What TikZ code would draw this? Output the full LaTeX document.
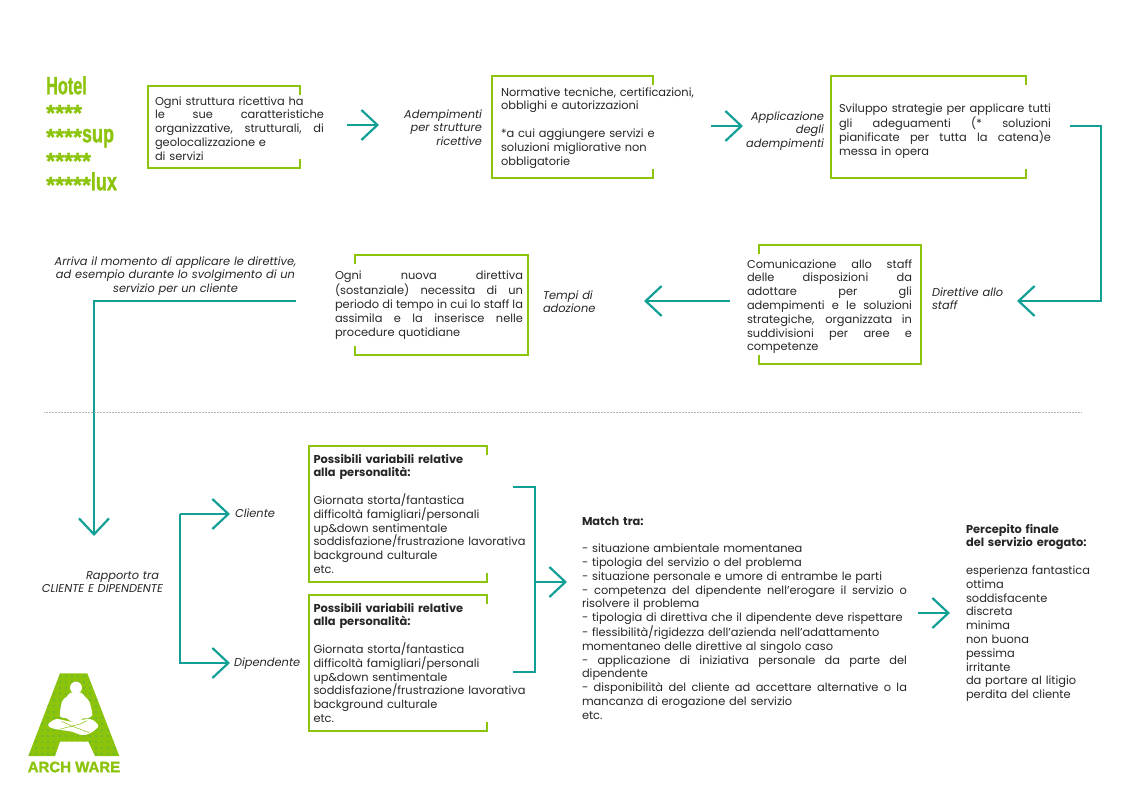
\documentclass[tikz,border=0pt]{standalone}
\usepackage{fontspec}
\usepackage{graphicx}
\setmainfont{Poppins}
\newfontfamily\hotelfont{Liberation Sans}[BoldFont={Liberation Sans Bold},BoldFeatures={FakeBold=1.4}]
\usetikzlibrary{arrows.meta,positioning}
\definecolor{archgreen}{HTML}{8CC30B}
\definecolor{archteal}{HTML}{12A096}
\definecolor{inkgrey}{HTML}{262626}
\newlength{\jlwidth}
\newcommand{\jl}[1]{\leavevmode\hbox to \jlwidth{\spaceskip=.26em plus 1fil\relax #1}}
\newcommand{\hotelword}[2][.65]{\scalebox{#1}[1]{#2}}
\newcommand{\hotelstars}[1]{\raisebox{-2.5pt}{\fontsize{23}{24}\selectfont #1}}

\begin{document}
\begin{tikzpicture}[
  x=1pt, y=-1pt,
  frm/.style 2 args={anchor=north west, inner sep=0pt, outer sep=0pt, minimum width=#1pt, minimum height=#2pt},
  brk/.style={draw=archgreen, line width=2.5pt},
  txt/.style={anchor=north west, inner sep=0pt, outer sep=0pt, yshift=-1.5pt, text=inkgrey, text width=#1pt, align=left,
    font=\fontsize{11.4}{13.8}\selectfont, execute at begin node={\setlength{\jlwidth}{#1pt}\strut}},
  lbl/.style={txt=#1, font=\fontsize{11.4}{13.8}\selectfont\itshape},
  conn/.style={draw=archteal, line width=2.2pt},
  arr/.style={conn, -{Straight Barb[length=16pt,width=30pt,line width=2.2pt]}}
]
\useasboundingbox (0,0) rectangle (1140,806);

% title column
\node[anchor=north west, inner sep=0pt, text=archgreen, align=left,
  font=\fontsize{25}{24}\selectfont\hotelfont\bfseries] (hotel) at (46,76)
  {\hotelword{Hotel}\\ \hotelstars{****}\\
   \hotelstars{****}\hotelword[.72]{sup}\\
   \hotelstars{*****}\\
   \hotelstars{*****}\hotelword[.72]{lux}};

% frames
\node[frm={152}{82}] (frmStruttura) at (148,86) {};
\node[frm={161}{102}] (frmNorme) at (492,76) {};
\node[frm={195}{102}] (frmSviluppo) at (831,76) {};
\node[frm={162}{119}] (frmStaff) at (759,245) {};
\node[frm={173}{100}] (frmTempi) at (355,255) {};
\node[frm={178}{136}] (frmCliente) at (309,446) {};
\node[frm={178}{136}] (frmDipendente) at (309,595) {};
\foreach \f in {frmStruttura,frmNorme,frmSviluppo,frmCliente,frmDipendente}
  \draw[brk] ([yshift=-9pt]\f.north east) -- (\f.north east) -- (\f.north west) -- (\f.south west) -- (\f.south east) -- ([yshift=9pt]\f.south east);
\foreach \f in {frmStaff,frmTempi}
  \draw[brk] ([yshift=-9pt]\f.north west) -- (\f.north west) -- (\f.north east) -- (\f.south east) -- (\f.south west) -- ([yshift=9pt]\f.south west);

% texts in and beside the frames
\node[txt=169] (txtStruttura) at (155,94) {Ogni struttura ricettiva ha\\
  \jl{le sue caratteristiche}\\ \jl{organizzative, strutturali, di}\\ geolocalizzazione e\\ di servizi};
\node[txt=205] (txtNorme) at (501,85) {Normative tecniche, certificazioni,\\ obblighi e autorizzazioni\\[13.8pt]
  *a cui aggiungere servizi e\\ soluzioni migliorative non\\ obbligatorie};
\node[txt=212] (txtSviluppo) at (839,101) {\jl{Sviluppo strategie per applicare tutti}\\
  \jl{gli adeguamenti (* soluzioni}\\ \jl{pianificate per tutta la catena)e}\\ messa in opera};
\node[txt=165] (txtStaff) at (747,257) {\jl{Comunicazione allo staff}\\ \jl{delle disposizioni da}\\ \jl{adottare per gli}\\
  \jl{adempimenti e le soluzioni}\\ \jl{strategiche, organizzata in}\\ \jl{suddivisioni per aree e}\\ competenze};
\node[txt=188] (txtTempi) at (335,268) {\jl{Ogni nuova direttiva}\\ \jl{(sostanziale) necessita di un}\\
  \jl{periodo di tempo in cui lo staff la}\\ \jl{assimila e la inserisce nelle}\\ procedure quotidiane};
\node[txt=225] (txtCliente) at (313.5,452) {\textbf{Possibili variabili relative}\\ \textbf{alla personalità:}\\[13.8pt]
  Giornata storta/fantastica\\ difficoltà famigliari/personali\\ up\&down sentimentale\\
  soddisfazione/frustrazione lavorativa\\ background culturale\\ etc.};
\node[txt=225] (txtDipendente) at (313.5,601) {\textbf{Possibili variabili relative}\\ \textbf{alla personalità:}\\[13.8pt]
  Giornata storta/fantastica\\ difficoltà famigliari/personali\\ up\&down sentimentale\\
  soddisfazione/frustrazione lavorativa\\ background culturale\\ etc.};
\node[txt=325] (txtMatch) at (582,514) {\textbf{Match tra:}\\[13.8pt]
  - situazione ambientale momentanea\\ - tipologia del servizio o del problema\\
  - situazione personale e umore di entrambe le parti\\
  \jl{- competenza del dipendente nell’erogare il servizio o}\\ risolvere il problema\\
  - tipologia di direttiva che il dipendente deve rispettare\\
  - flessibilità/rigidezza dell’azienda nell’adattamento\\ momentaneo delle direttive al singolo caso\\
  \jl{- applicazione di iniziativa personale da parte del}\\ dipendente\\
  \jl{- disponibilità del cliente ad accettare alternative o la}\\ mancanza di erogazione del servizio\\ etc.};
\node[txt=140] (txtPercepito) at (966,522) {\textbf{Percepito finale}\\ \textbf{del servizio erogato:}\\[13.8pt]
  esperienza fantastica\\ ottima\\ soddisfacente\\ discreta\\ minima\\ non buona\\ pessima\\ irritante\\
  da portare al litigio\\ perdita del cliente};

% italic labels
\node[lbl=100, anchor=north east, align=right] (lblAdempimenti) at (482,107) {Adempimenti\\ per strutture\\ ricettive};
\node[lbl=100, anchor=north east, align=right] (lblApplicazione) at (824,109) {Applicazione\\ degli\\ adempimenti};
\node[lbl=80] (lblDirettive) at (932,285) {Direttive allo\\ staff};
\node[lbl=70] (lblAdozione) at (543,288) {Tempi di\\ adozione};
\node[lbl=260, anchor=north, align=center] (lblMomento) at (175.5,254) {Arriva il momento di applicare le direttive,\\
  ad esempio durante lo svolgimento di un\\ servizio per un cliente};
\node[lbl=130, anchor=north east, align=right] (lblRapporto) at (163,568) {Rapporto tra\rule{4pt}{0pt}\\ CLIENTE E DIPENDENTE};
\node[lbl=60] (lblCliente) at (235,506) {Cliente};
\node[lbl=70] (lblDipendente) at (234,655) {Dipendente};

% connector ports
\coordinate (outStruttura) at ([xshift=47pt,yshift=2pt]frmStruttura.east);
\coordinate (inAdempimenti) at ([xshift=32pt]outStruttura);
\coordinate (outNorme) at ([xshift=58pt,yshift=1pt]frmNorme.east);
\coordinate (inApplicazione) at ([xshift=32pt]outNorme);
\coordinate (outSviluppo) at ([xshift=44pt,yshift=1pt]frmSviluppo.east);
\coordinate (turnSviluppo) at (1101,126);
\coordinate (turnStaff) at (1101,301);
\coordinate (inDirettive) at (1017,301);
\coordinate (outStaff) at (730,301);
\coordinate (inAdozione) at (644,301);
\coordinate (outTempi) at (296,301);
\coordinate (turnMomento) at (94,301);
\coordinate (inRapporto) at (94,536);
\coordinate (turnCliente) at (180,514);
\coordinate (turnDipendente) at (180,663);
\coordinate (inCliente) at (230,514);
\coordinate (inDipendente) at (230,663);
\coordinate (topMatch) at (513,487);
\coordinate (cornerTop) at (535,487);
\coordinate (cornerBottom) at (535,672);
\coordinate (bottomMatch) at (513,672);
\coordinate (forkMatch) at (535,582);
\coordinate (inMatch) at (567,582);
\coordinate (outMatch) at (918,613);
\coordinate (inPercepito) at (950,613);
\coordinate (ruleLeft) at (44,412);
\coordinate (ruleRight) at (1081,412);

\draw[arr] (outStruttura) -- (inAdempimenti);
\draw[arr] (outNorme) -- (inApplicazione);
\draw[arr] (outSviluppo) -- (turnSviluppo) -- (turnStaff) -- (inDirettive);
\draw[arr] (outStaff) -- (inAdozione);
\draw[arr] (outTempi) -- (turnMomento) -- (inRapporto);
\draw[arr] (turnCliente) -- (inCliente);
\draw[arr] (turnCliente) -- (turnDipendente) -- (inDipendente);
\draw[conn] (topMatch) -- (cornerTop) -- (cornerBottom) -- (bottomMatch);
\draw[arr] (forkMatch) -- (inMatch);
\draw[arr] (outMatch) -- (inPercepito);
\draw[gray!60, line width=.5pt, densely dotted] (ruleLeft) -- (ruleRight);

% logo
\begin{scope}[shift={(0,650)}, x=.3333pt, y=-.3333pt]
  \fill[archgreen] (180,70) -- (262,70) -- (358,318) -- (285,318) -- (265,275) -- (180,275) -- (165,318) -- (85,318) -- cycle;
  \begin{scope}
    \clip (180,70) -- (262,70) -- (358,318) -- (285,318) -- (265,275) -- (180,275) -- (165,318) -- (85,318) -- cycle;
    \foreach \x in {90,108,...,360}
      \foreach \y in {78,96,...,318}
        \fill[archteal] (\x,\y) circle (.6pt);
  \end{scope}
  \fill[white] (228,113) circle (6pt);
  \fill[white] plot[smooth cycle] coordinates {(213,128) (243,128) (255,140) (268,155) (277,195) (262,205) (250,205) (235,215) (215,215) (200,205) (180,198) (186,155) (200,140)};
  \fill[white] plot[smooth cycle] coordinates {(145,222) (170,207) (215,215) (270,207) (295,228) (270,250) (245,255) (215,245) (170,238) (150,232)};
  \draw[archgreen, line width=.5pt] (178,238) -- (240,222) -- (262,212);
  \draw[archgreen, line width=.5pt] (268,248) -- (215,228) -- (185,214);
  \node[inner sep=0pt, text=archgreen, font=\fontsize{15}{15}\selectfont\hotelfont\bfseries] (logoText) at (222,351) {ARCH WARE};
\end{scope}
\end{tikzpicture}
\end{document}
